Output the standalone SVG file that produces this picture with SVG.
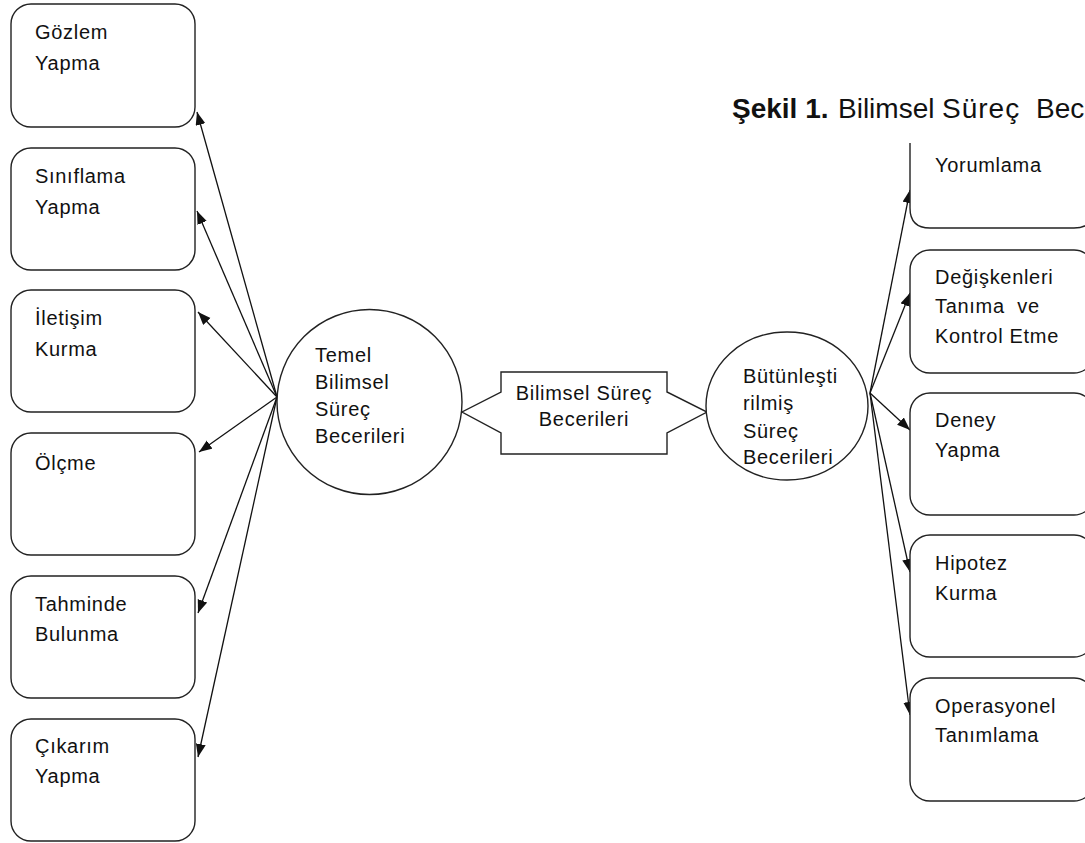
<svg xmlns="http://www.w3.org/2000/svg" width="1085" height="843" viewBox="0 0 1085 843">
<defs>
<style>
.box{fill:#fff;stroke:#222;stroke-width:1.4}
.t{font-family:"Liberation Sans",Arial,sans-serif;font-size:20px;letter-spacing:0.7px;fill:#111}
.c{text-anchor:middle}
.conn line{stroke:#111;stroke-width:1.3}
.ttl{font-family:"Liberation Sans",Arial,sans-serif;font-size:28px;fill:#111}
</style>
<marker id="ah" markerUnits="userSpaceOnUse" markerWidth="14" markerHeight="12" refX="13" refY="5" orient="auto">
<path d="M0,0 L13,5 L0,10 Z" fill="#111"/>
</marker>
</defs>
<rect width="1085" height="843" fill="#fff"/>

<g id="connectors" class="conn">
<line x1="277" y1="397" x2="197" y2="112" marker-end="url(#ah)"/>
<line x1="277" y1="397" x2="197" y2="211" marker-end="url(#ah)"/>
<line x1="277" y1="397" x2="198" y2="312" marker-end="url(#ah)"/>
<line x1="277" y1="397" x2="199" y2="452" marker-end="url(#ah)"/>
<line x1="277" y1="397" x2="198" y2="613" marker-end="url(#ah)"/>
<line x1="277" y1="397" x2="198" y2="757" marker-end="url(#ah)"/>
<line x1="870" y1="393" x2="910" y2="190" marker-end="url(#ah)"/>
<line x1="870" y1="393" x2="910" y2="293" marker-end="url(#ah)"/>
<line x1="870" y1="393" x2="910" y2="430" marker-end="url(#ah)"/>
<line x1="870" y1="393" x2="910" y2="572" marker-end="url(#ah)"/>
<line x1="870" y1="393" x2="910" y2="715" marker-end="url(#ah)"/>
</g>

<g id="n-gozlem"><rect class="box" x="11" y="4" width="184" height="123" rx="20"/><text class="t" x="35" y="39">Gözlem</text><text class="t" x="35" y="70">Yapma</text></g>
<g id="n-siniflama"><rect class="box" x="11" y="148" width="184" height="122" rx="20"/><text class="t" x="35" y="183">Sınıflama</text><text class="t" x="35" y="214">Yapma</text></g>
<g id="n-iletisim"><rect class="box" x="11" y="290" width="184" height="122" rx="20"/><text class="t" x="35" y="325">İletişim</text><text class="t" x="35" y="356">Kurma</text></g>
<g id="n-olcme"><rect class="box" x="11" y="433" width="184" height="122" rx="20"/><text class="t" x="35" y="470">Ölçme</text></g>
<g id="n-tahmin"><rect class="box" x="11" y="576" width="184" height="122" rx="20"/><text class="t" x="35" y="611">Tahminde</text><text class="t" x="35" y="641">Bulunma</text></g>
<g id="n-cikarim"><rect class="box" x="11" y="719" width="184" height="122" rx="20"/><text class="t" x="35" y="753">Çıkarım</text><text class="t" x="35" y="783">Yapma</text></g>

<g id="n-temel"><circle class="box" cx="369.5" cy="402" r="92.5"/><text class="t" x="315" y="362">Temel</text><text class="t" x="315" y="389">Bilimsel</text><text class="t" x="315" y="416">Süreç</text><text class="t" x="315" y="443">Becerileri</text></g>

<g id="n-bss"><polygon class="box" points="501,372 667,372 667,392 707,412 667,433 667,454 501,454 501,433 462,412 501,392"/><text class="t c" x="584" y="400">Bilimsel Süreç</text><text class="t c" x="584" y="426">Becerileri</text></g>

<g id="n-butunlestirilmis"><ellipse class="box" cx="787" cy="406" rx="81" ry="74"/><text class="t" x="743" y="383">Bütünleşti</text><text class="t" x="743" y="410">rilmiş</text><text class="t" x="743" y="438">Süreç</text><text class="t" x="743" y="464">Becerileri</text></g>

<g id="n-yorumlama"><path class="box" d="M910,143 V208 Q910,228 930,228 H1074 Q1094,228 1094,208 V143"/><text class="t" x="935" y="172">Yorumlama</text></g>
<g id="n-degiskenleri"><rect class="box" x="910" y="250" width="184" height="123" rx="20"/><text class="t" x="935" y="284">Değişkenleri</text><text class="t" x="935" y="313" style="white-space:pre">Tanıma  ve</text><text class="t" x="935" y="343">Kontrol Etme</text></g>
<g id="n-deney"><rect class="box" x="910" y="393" width="184" height="122" rx="20"/><text class="t" x="935" y="427">Deney</text><text class="t" x="935" y="457">Yapma</text></g>
<g id="n-hipotez"><rect class="box" x="910" y="535" width="184" height="122" rx="20"/><text class="t" x="935" y="570">Hipotez</text><text class="t" x="935" y="600">Kurma</text></g>
<g id="n-operasyonel"><rect class="box" x="910" y="678" width="184" height="123" rx="20"/><text class="t" x="935" y="713">Operasyonel</text><text class="t" x="935" y="742">Tanımlama</text></g>

<g id="title"><text class="ttl" y="118"><tspan x="732" font-weight="bold">Şekil 1.</tspan><tspan x="838">Bilimsel</tspan><tspan x="942" letter-spacing="1">Süreç</tspan><tspan x="1036">Becerileri</tspan></text></g>
</svg>
